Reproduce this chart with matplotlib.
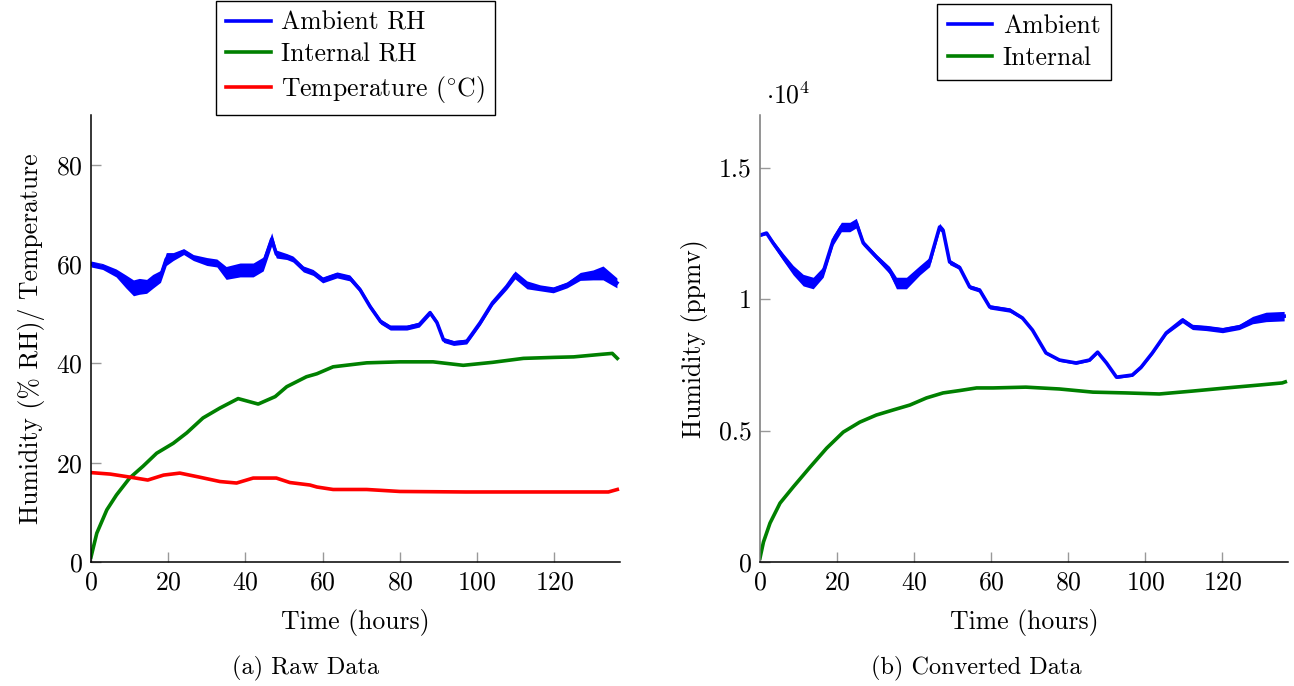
import numpy as np
import matplotlib
matplotlib.use('Agg')
import matplotlib.pyplot as plt
from matplotlib.ticker import FuncFormatter

plt.rcParams['font.family'] = 'serif'
plt.rcParams['font.serif'] = ['cmr10']
plt.rcParams['mathtext.fontset'] = 'cm'
plt.rcParams['axes.formatter.use_mathtext'] = True

# (a) raw data
amb_t = [0, 3, 6.5, 9, 11, 12.5, 14.4, 16, 18, 19.5, 21.3, 24, 26.5, 30, 32.6, 35, 38.6, 42, 44.6, 46.8,
         48, 50.7, 52.3, 55, 57.5, 60, 63.7, 67, 69.7, 72.3, 75, 77.5, 81.8, 85, 87.8, 89.6, 91.3, 93.9, 97.3, 98.6,
         100.8, 104, 107.7, 109.8, 112.9, 116.3, 119.7, 123.3, 126.7, 130, 132.6, 136.2]
amb_rh = [60, 59.5, 58.2, 56.5, 55.2, 55.5, 55.5, 56.5, 57.5, 61, 61.5, 62.5, 61.3, 60.5, 60.2, 58.2, 58.8, 58.8, 60, 65,
          62, 61.5, 61, 59, 58.3, 56.8, 57.8, 57.2, 54.8, 51.4, 48.4, 47.2, 47.2, 47.8, 50.2, 48.2, 44.7, 44.1, 44.4, 45.8,
          48.2, 52.2, 55.5, 57.8, 55.8, 55.2, 54.8, 55.8, 57.5, 57.8, 58.2, 56.2]
amb_rh_spread = [0.6, 0.6, 0.8, 1.3, 1.6, 1.6, 1.4, 1.4, 1.2, 1.3, 0.8, 0.6, 0.6, 0.8, 0.8, 1.3, 1.4, 1.4, 1.4, 1.3,
                 0.8, 0.6, 0.6, 0.6, 0.6, 0.6, 0.6, 0.6, 0.5, 0.5, 0.5, 0.5, 0.5, 0.5, 0.5, 0.5, 0.5, 0.5, 0.5, 0.5,
                 0.5, 0.5, 0.6, 0.8, 0.8, 0.6, 0.6, 0.6, 0.8, 1.0, 1.4, 1.0]

int_t = [0, 1.5, 4.1, 6.6, 10, 13.5, 17, 21.3, 24.8, 29, 33.4, 38.1, 43.3, 47.7, 50.7, 55.8, 58.5, 62.7, 71.4, 80,
         88.6, 96.4, 104, 112, 120, 125, 132, 135, 136.3]
int_rh = [1, 5.8, 10.5, 13.5, 16.9, 19.3, 21.9, 23.9, 26, 29, 31, 32.9, 31.8, 33.3, 35.3, 37.3, 37.9, 39.3, 40.1, 40.3,
          40.3, 39.6, 40.2, 41, 41.2, 41.3, 41.8, 42, 41]

temp_t = [0, 5, 10, 14.7, 18.8, 23, 28, 33.4, 37.7, 42, 48, 51.5, 56.7, 58.5, 62.7, 71.4, 80, 97, 120, 134, 136.3]
temp_c = [18, 17.7, 17.1, 16.5, 17.5, 17.9, 17.1, 16.2, 15.9, 16.9, 16.9, 16, 15.5, 15.1, 14.6, 14.6, 14.2, 14.1, 14.1, 14.1, 14.6]

# (b) converted data (ppmv)
amb_ppm_t = [0, 1.7, 3.4, 6, 8.6, 11.2, 13.8, 16.4, 19, 21.1, 23.3, 25, 26.8, 30.2, 33.6, 35.4, 38, 41.5, 44, 46.6,
             47.5, 49.2, 51.8, 54.4, 57, 59.6, 64.8, 68.1, 70.7, 74.2, 77.7, 82, 85.5, 87.6, 89.9, 92.5, 96.6, 98.9, 101.8, 105.4,
             109.6, 112.2, 115.8, 120, 124.4, 127.8, 131.3, 136]
amb_ppm = [12430, 12510, 12130, 11600, 11100, 10720, 10610, 11030, 12240, 12740, 12740, 12890, 12130, 11600, 11100, 10610, 10610, 11100, 11410, 12740,
           12620, 11410, 11200, 10460, 10340, 9700, 9580, 9280, 8820, 7950, 7680, 7570, 7680, 7980, 7570, 7030, 7110, 7410, 7950, 8710,
           9200, 8940, 8900, 8820, 8940, 9200, 9320, 9350]
amb_ppm_spread = [50, 60, 100, 140, 180, 220, 220, 200, 180, 180, 180, 180, 100, 100, 140, 220, 220, 180, 180, 140,
                  100, 100, 80, 80, 80, 80, 80, 60, 60, 50, 50, 50, 50, 50, 50, 50, 50, 50, 50, 60,
                  100, 100, 100, 100, 100, 140, 180, 180]

int_ppm_t = [0, 0.9, 2.6, 5.2, 8.6, 13, 17.3, 21.6, 25.9, 30.2, 34.5, 38.9, 43.2, 47.5, 51.8, 56.2, 60.5, 69, 77.7, 86.4,
             95, 103.6, 112.2, 121, 129.5, 135.5, 136.3]
int_ppm = [150, 760, 1480, 2240, 2850, 3610, 4330, 4940, 5320, 5590, 5780, 5970, 6240, 6430, 6520, 6620, 6620, 6650, 6580, 6460,
           6430, 6390, 6500, 6620, 6730, 6810, 6850]

left_yticks = [0, 20, 40, 60, 80]
right_yticks = [0, 5000, 10000, 15000]
xticks = [0, 20, 40, 60, 80, 100, 120]

BLUE = (0, 0, 1)
GREEN = (0, 0.5, 0)
RED = (1, 0, 0)
FS = 18.5
LW = 2.6

fig = plt.figure(figsize=(12.94, 6.86), dpi=100)
H = 686.0
W = 1294.0
ax1 = fig.add_axes([91 / W, (H - 562) / H, 529 / W, 447 / H])
ax2 = fig.add_axes([760 / W, (H - 562) / H, 528 / W, 447 / H])


def style_axis(ax, left_color):
    for s in ['top', 'right']:
        ax.spines[s].set_visible(False)
    ax.spines['bottom'].set_color('black')
    ax.spines['left'].set_color(left_color)
    for s in ['bottom', 'left']:
        ax.spines[s].set_linewidth(1.1)
    ax.tick_params(direction='in', length=7, width=1, color='#999999',
                   labelsize=FS, pad=6)
    ax.set_xticks(xticks)
    ax.set_xlim(0, 137)
    ax.set_xlabel('Time (hours)', fontsize=FS, labelpad=11)


def top_legend(ax, y):
    leg = ax.legend(loc='lower center', bbox_to_anchor=(0.5, y), fontsize=FS, frameon=True,
                    fancybox=False, edgecolor='black', framealpha=1, handlelength=1.75,
                    handletextpad=0.4, labelspacing=0.3, borderpad=0.4, borderaxespad=0)
    leg.get_frame().set_linewidth(1.0)


# panel (a)
ax1.fill_between(amb_t, np.array(amb_rh) - amb_rh_spread, np.array(amb_rh) + amb_rh_spread,
                 color=BLUE, lw=0)
ax1.plot(amb_t, amb_rh, color=BLUE, lw=LW, label='Ambient RH')
ax1.plot(int_t, int_rh, color=GREEN, lw=LW, label='Internal RH')
ax1.plot(temp_t, temp_c, color=RED, lw=LW, label=r'Temperature ($^{\circ}$C)')
style_axis(ax1, 'black')
ax1.set_ylim(0, 90)
ax1.set_yticks(left_yticks)
ax1.set_ylabel('Humidity (% RH)/ Temperature', fontsize=FS, labelpad=8)
top_legend(ax1, 1.0)

# panel (b)
ax2.fill_between(amb_ppm_t, np.array(amb_ppm) - amb_ppm_spread, np.array(amb_ppm) + amb_ppm_spread,
                 color=BLUE, lw=0)
ax2.plot(amb_ppm_t, amb_ppm, color=BLUE, lw=LW, label='Ambient')
ax2.plot(int_ppm_t, int_ppm, color=GREEN, lw=LW, label='Internal')
style_axis(ax2, '#777777')
ax2.set_ylim(0, 17000)
ax2.set_yticks(right_yticks)
ax2.yaxis.set_major_formatter(FuncFormatter(lambda v, p: '%g' % (v / 1e4)))
ax2.set_ylabel('Humidity (ppmv)', fontsize=FS, labelpad=8)
ax2.text(0.012, 1.045, r'$\cdot 10^{4}$', transform=ax2.transAxes, fontsize=FS,
         ha='left', va='center')
top_legend(ax2, 1.078)

# sub captions
fig.text(306 / W, 1 - 668 / H, '(a) Raw Data', fontsize=17.5, ha='center', va='center')
fig.text(976 / W, 1 - 668 / H, '(b) Converted Data', fontsize=17.5, ha='center', va='center')

fig.savefig('out.png', dpi=100)
